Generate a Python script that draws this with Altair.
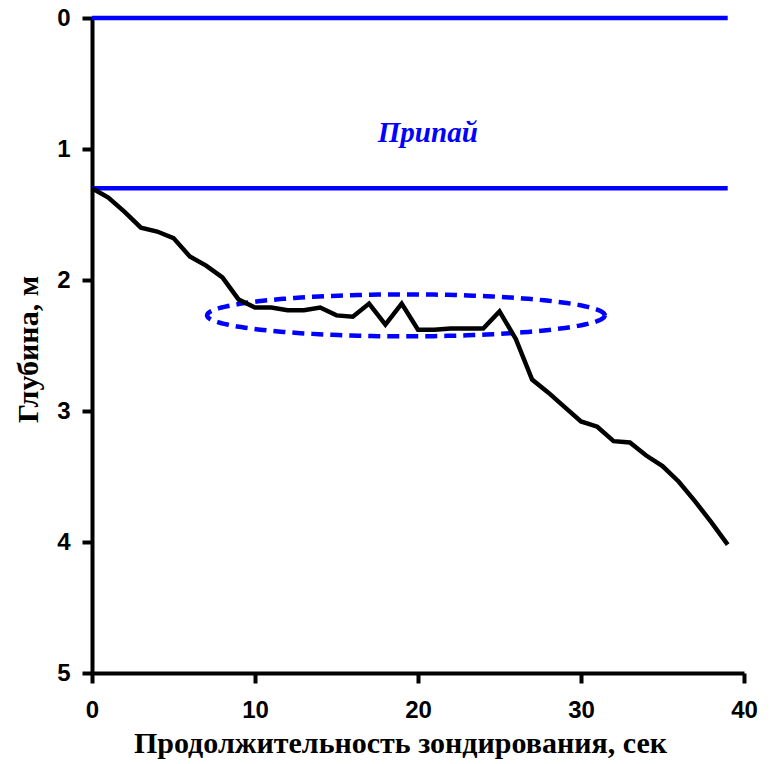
import altair as alt
import pandas as pd
import numpy as np

# Sounding curve: time (s) vs depth (m)
time_s = list(range(0, 40))
depth_m = [1.30, 1.37, 1.48, 1.60, 1.63, 1.68, 1.82, 1.89, 1.98, 2.15,
           2.21, 2.21, 2.23, 2.23, 2.21, 2.27, 2.28, 2.18, 2.34, 2.18,
           2.38, 2.38, 2.37, 2.37, 2.37, 2.24, 2.45, 2.76, 2.86, 2.97,
           3.08, 3.12, 3.23, 3.24, 3.34, 3.42, 3.54, 3.69, 3.85, 4.02]

# Fast-ice boundaries (m) and their extent (s)
ice_depths = [0.0, 1.3]
ice_x_start = [0, 0]
ice_x_end = [39, 39]
ice_label = ["Припай"]
ice_label_x = [20.6]
ice_label_y = [0.95]

# Highlight ellipse: centre and radii in data units
ell_cx, ell_cy = [19.26], [2.27]
ell_rx, ell_ry = [12.2], [0.16]

x_ticks = [0, 10, 20, 30, 40]
y_ticks = [0, 0.5, 1, 1.5, 2, 2.5, 3, 3.5, 4, 4.5, 5]

curve_df = pd.DataFrame({"t": time_s, "d": depth_m})
ice_df = pd.DataFrame({"x": ice_x_start, "x2": ice_x_end, "y": ice_depths})
label_df = pd.DataFrame({"x": ice_label_x, "y": ice_label_y, "txt": ice_label})
ang = np.linspace(0, 2 * np.pi, 181)
ell_df = pd.DataFrame({
    "i": np.arange(len(ang)),
    "x": ell_cx[0] + ell_rx[0] * np.cos(ang),
    "y": ell_cy[0] + ell_ry[0] * np.sin(ang),
})

BLUE = "#0000ff"

x_scale = alt.Scale(domain=[0, 40], nice=False, zero=False)
y_scale = alt.Scale(domain=[0, 5], reverse=True, nice=False, zero=False)

x_axis = alt.Axis(
    values=x_ticks, grid=False, domainColor="black", domainWidth=4,
    tickColor="black", tickWidth=4, tickSize=10, format="d",
    labelFont="Liberation Sans", labelFontWeight="bold", labelFontSize=24,
    labelColor="black", labelPadding=15, labelFlush=False,
    title="Продолжительность зондирования, сек",
    titleFont="Liberation Serif", titleFontWeight="bold", titleFontSize=30,
    titleColor="black", titleX=308, titleY=79, titleAlign="center",
    titleBaseline="alphabetic", titleAnchor="start",
)

y_axis = alt.Axis(
    values=y_ticks, grid=False, domainColor="black", domainWidth=4,
    tickColor="black", tickWidth=4, format="d",
    tickSize={"condition": {"test": "datum.value % 1 === 0", "value": 10}, "value": 4},
    labelExpr="datum.value % 1 === 0 ? format(datum.value, 'd') : ''",
    labelFont="Liberation Sans", labelFontWeight="bold", labelFontSize=24,
    labelColor="black", labelPadding=12, labelFlush=False,
    title="Глубина, м",
    titleFont="Liberation Serif", titleFontWeight="bold", titleFontSize=30,
    titleColor="black", titleX=-55, titleY=331, titleAngle=270,
    titleAlign="center", titleBaseline="alphabetic", titleAnchor="start",
)

ice_lines = alt.Chart(ice_df).mark_rule(color=BLUE, strokeWidth=4.5).encode(
    x=alt.X("x:Q", scale=x_scale, axis=x_axis),
    x2="x2:Q",
    y=alt.Y("y:Q", scale=y_scale, axis=y_axis),
)

ellipse = alt.Chart(ell_df).mark_line(
    color=BLUE, strokeWidth=4.5, strokeDash=[12, 7]
).encode(
    x=alt.X("x:Q", scale=x_scale),
    y=alt.Y("y:Q", scale=y_scale),
    order="i:Q",
)

curve = alt.Chart(curve_df).mark_line(color="black", strokeWidth=4.5).encode(
    x=alt.X("t:Q", scale=x_scale),
    y=alt.Y("d:Q", scale=y_scale),
)

label = alt.Chart(label_df).mark_text(
    color=BLUE, font="Liberation Serif", fontWeight="bold", fontStyle="italic",
    fontSize=29, baseline="alphabetic", align="center",
).encode(
    x=alt.X("x:Q", scale=x_scale),
    y=alt.Y("y:Q", scale=y_scale),
    text="txt:N",
)

chart = alt.layer(ice_lines, ellipse, curve, label).properties(
    width=652, height=655,
    autosize=alt.AutoSizeParams(type="none"),
    padding={"left": 92, "top": 18, "right": 29, "bottom": 91},
    background="white",
).configure_view(stroke=None)

chart.save("out.html", embed_options={"renderer": "svg", "actions": False})
